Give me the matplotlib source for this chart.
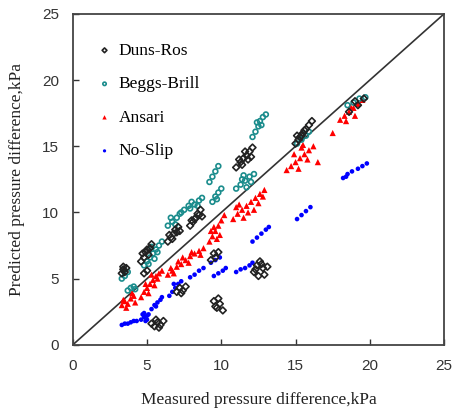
import matplotlib.pyplot as plt

# Duns-Ros (measured, predicted) in kPa
duns_x = [3.3, 3.4, 3.5, 3.6, 3.4,
          4.6, 4.8, 4.9, 5.1, 5.2, 5.3, 5.0, 4.7, 4.8, 5.0,
          6.4, 6.6, 6.8, 6.9, 7.1, 6.7, 7.0, 6.5, 7.2,
          7.9, 8.1, 8.3, 8.4, 8.6, 8.2, 8.5, 8.0, 8.7,
          11.0, 11.3, 11.5, 11.7, 11.9, 12.1, 11.4, 11.8, 11.6, 11.2, 12.0,
          15.0, 15.2, 15.4, 15.5, 15.7, 15.9, 16.1, 15.3, 15.6, 15.1,
          18.6, 19.2, 19.6, 19.0,
          5.3, 5.5, 5.7, 5.9, 6.1, 5.8, 5.6,
          7.0, 7.2, 7.4, 7.6, 7.3,
          9.3, 9.5, 9.6, 9.8,
          12.2, 12.4, 12.6, 12.8, 12.9, 12.5, 13.1, 12.7, 12.3,
          9.5, 9.7, 9.9, 10.1, 9.8, 9.6]
duns_y = [5.4, 5.7, 5.5, 5.8, 5.9,
          6.3, 6.6, 7.0, 6.8, 7.3, 7.6, 7.2, 6.9, 5.4, 5.6,
          7.8, 8.1, 8.4, 8.7, 8.9, 8.0, 8.5, 8.3, 8.6,
          9.0, 9.3, 9.6, 9.9, 10.2, 9.5, 9.8, 9.4, 9.7,
          13.4, 13.8, 14.1, 14.3, 14.6, 14.9, 13.6, 14.0, 14.6, 14.0, 14.2,
          15.2, 15.5, 15.8, 16.0, 16.3, 16.6, 16.9, 15.7, 16.2, 15.8,
          17.6, 18.1, 18.6, 18.4,
          1.6, 1.4, 1.7, 1.5, 1.8, 1.3, 1.9,
          4.0, 4.3, 4.1, 4.4, 3.9,
          6.4, 6.9, 6.6, 7.0,
          5.5, 6.0, 6.3, 5.8, 5.3, 5.2, 5.9, 6.1, 5.7,
          3.3, 2.8, 3.1, 2.6, 3.5, 2.9]

# Beggs-Brill
beggs_x = [3.3, 3.5, 3.7, 3.4,
           3.7, 3.9, 4.1, 4.2,
           4.8, 5.0, 5.2, 5.4, 5.6, 5.8, 6.0, 5.3, 5.5, 5.7, 5.1,
           6.4, 6.7, 7.0, 7.2, 7.5, 7.8, 8.0, 6.9, 7.3, 6.6,
           7.9, 8.2, 8.5, 8.7, 8.4,
           9.4, 9.6, 9.8, 10.0, 9.7,
           9.2, 9.4, 9.6, 9.8,
           11.0, 11.3, 11.6, 11.9, 12.2, 11.5, 11.7, 11.4, 12.0,
           12.1, 12.3, 12.5, 12.6, 12.8, 13.0, 12.4, 12.7,
           15.1, 15.4, 15.7, 15.9, 15.5,
           18.5, 18.9, 19.3, 19.7]
beggs_y = [5.0, 5.2, 5.5, 5.7,
           4.1, 4.3, 4.4, 4.2,
           6.0, 6.3, 6.6, 6.9, 7.2, 7.5, 7.8, 7.4, 6.5, 7.0, 6.1,
           9.0, 9.3, 9.6, 9.9, 10.2, 10.5, 10.8, 9.1, 10.0, 9.6,
           10.3, 10.6, 10.9, 11.1, 10.5,
           10.8, 11.2, 11.5, 11.8, 11.0,
           12.3, 12.7, 13.1, 13.5,
           11.8, 12.1, 12.4, 12.7, 12.9, 12.8, 11.9, 12.5, 12.3,
           15.7, 16.1, 16.5, 16.9, 17.2, 17.4, 16.8, 16.6,
           15.2, 15.5, 15.8, 16.1, 15.9,
           18.1, 18.3, 18.6, 18.7]

# Ansari
ansari_x = [3.3, 3.5, 3.7, 3.9, 4.1, 4.2, 3.6, 3.4, 4.0,
            4.6, 4.8, 5.0, 5.2, 5.4, 5.6, 5.8, 6.0, 5.1, 5.5, 4.9, 5.7, 5.3,
            6.4, 6.7, 7.0, 7.3, 7.6, 7.9, 8.2, 8.5, 8.8, 7.1, 7.8, 6.8,
            7.4, 8.0, 8.6, 6.6,
            9.2, 9.4, 9.6, 9.8, 10.0, 10.2, 9.5, 9.9, 9.7, 9.3,
            10.8, 11.1, 11.4, 11.7, 12.0, 12.3, 12.6, 12.9, 11.5, 12.2, 11.0,
            11.8, 12.5, 11.2, 12.8,
            14.4, 14.7, 15.0, 15.3, 15.6, 15.9, 16.2, 15.2, 16.5, 15.5,
            15.8, 14.9, 15.4,
            17.5,
            18.0, 18.3, 18.6, 18.9, 19.2, 19.5, 18.4, 19.0, 18.7]
ansari_y = [3.0, 3.3, 3.1, 3.5, 3.7, 3.2, 2.8, 3.4, 3.9,
            3.6, 4.0, 4.3, 4.6, 4.9, 5.2, 5.4, 5.6, 3.9, 4.5, 4.6, 5.0, 5.3,
            5.3, 5.6, 5.9, 6.1, 6.4, 6.7, 6.9, 7.1, 7.3, 6.3, 6.2, 5.4,
            6.6, 7.0, 6.8, 5.8,
            7.8, 8.2, 8.6, 9.0, 9.4, 9.8, 8.9, 8.3, 8.0, 8.6,
            9.5, 9.9, 10.2, 10.5, 10.8, 11.1, 11.4, 11.7, 9.6, 10.2, 10.4,
            10.0, 10.7, 10.6, 11.2,
            13.2, 13.5, 13.8, 14.1, 14.4, 14.7, 15.0, 13.3, 13.8, 15.1,
            14.0, 14.4, 14.9,
            16.0,
            17.0, 17.3, 17.6, 17.9, 18.2, 18.5, 16.9, 17.3, 18.0]

# No-Slip
noslip_x = [3.3, 3.5, 3.7, 3.9, 4.1, 4.3,
            4.6, 4.8, 5.0, 4.9, 5.1, 4.7, 4.8, 5.0,
            5.3, 5.5, 5.7, 5.9, 6.0, 5.6,
            6.5, 6.7, 6.9, 7.1, 7.3, 6.8,
            7.9, 8.2, 8.5, 8.8,
            9.3, 9.6, 9.9, 9.5, 9.8, 10.1, 10.3,
            11.0, 11.3, 11.6, 11.9, 12.1,
            12.1, 12.4, 12.7, 13.0, 13.2,
            15.1, 15.4, 15.7, 16.0,
            18.2, 18.5, 18.8, 19.2, 19.5, 19.8, 18.4]
noslip_y = [1.5, 1.6, 1.6, 1.7, 1.8, 1.8,
            1.9, 2.1, 2.2, 1.8, 2.3, 2.3, 2.4, 1.9,
            2.7, 3.0, 3.2, 3.4, 3.6, 2.9,
            3.7, 4.0, 4.3, 4.6, 4.8, 4.6,
            5.1, 5.3, 5.6, 5.8,
            6.2, 6.4, 6.6, 5.2, 5.4, 5.6, 5.8,
            5.5, 5.7, 5.8, 6.0, 6.2,
            7.8, 8.1, 8.4, 8.7, 8.9,
            9.5, 9.8, 10.1, 10.4,
            12.6, 12.9, 13.1, 13.3, 13.5, 13.7, 12.7]

ticks = [0, 5, 10, 15, 20, 25]

fig = plt.figure(figsize=(4.55, 4.2), dpi=100)
ax = fig.add_axes([0.160, 0.179, 0.816, 0.788])

ax.plot([0, 25], [0, 25], color='#333333', lw=1.2, zorder=1)

ax.scatter(noslip_x, noslip_y, marker='o', s=11, color='#0000ff',
           edgecolors='none', label='No-Slip', zorder=2)
ax.scatter(ansari_x, ansari_y, marker='^', s=20, color='#ff0000',
           edgecolors='none', label='Ansari', zorder=3)
ax.scatter(beggs_x, beggs_y, marker='o', s=12, facecolors='none',
           edgecolors='#1a8c8c', linewidths=1.2, label='Beggs-Brill', zorder=4)
ax.scatter(duns_x, duns_y, marker='D', s=12, facecolors='none',
           edgecolors='#222222', linewidths=1.2, label='Duns-Ros', zorder=5)

ax.set_xlim(0, 25)
ax.set_ylim(0, 25)
ax.set_xticks(ticks)
ax.set_yticks(ticks)
ax.tick_params(direction='in', length=4, width=1, pad=10, labelsize=11,
               colors='#333333')
for lab in ax.get_xticklabels() + ax.get_yticklabels():
    lab.set_family('Liberation Sans')
for sp in ax.spines.values():
    sp.set_linewidth(1.3)
    sp.set_color('#444444')

ax.set_xlabel('Measured pressure difference,kPa', family='Liberation Serif',
              fontsize=12.5, color='#222222', labelpad=14)
ax.set_ylabel('Predicted pressure difference,kPa', family='Liberation Serif',
              fontsize=12.5, color='#222222', labelpad=12)

handles, labels = ax.get_legend_handles_labels()
order = [3, 2, 1, 0]
ax.legend([handles[i] for i in order], [labels[i] for i in order],
          loc='upper left', frameon=False, bbox_to_anchor=(0.02, 0.96),
          prop={'family': 'Liberation Serif', 'size': 12.5},
          labelspacing=1.0, handletextpad=0.3, handlelength=1.0,
          markerscale=0.7)

fig.savefig('out.png', dpi=100)
